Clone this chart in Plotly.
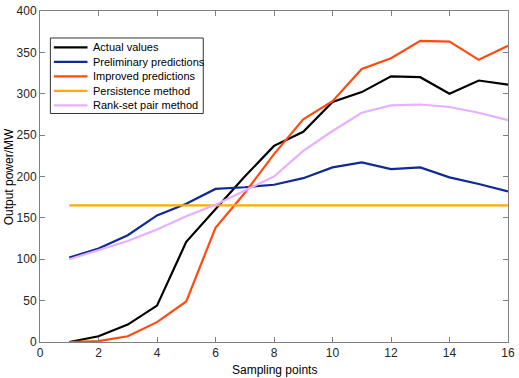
import plotly.graph_objects as go

x_points = list(range(1, 17))
actual = [0, 7, 21, 44, 121, 160, 200, 237, 254, 290, 302, 321, 320, 300, 316, 311]
preliminary = [102, 113, 129, 153, 167, 185, 187, 190, 198, 211, 217, 209, 211, 199, 191, 182]
improved = [0, 1, 7, 24, 49, 138, 180, 227, 269, 291, 330, 343, 364, 363, 341, 358]
persistence = [165] * 16
rankset = [100, 111, 122, 136, 152, 166, 183, 200, 231, 255, 277, 286, 287, 284, 277, 268]

names = ["Actual values", "Preliminary predictions", "Improved predictions",
         "Persistence method", "Rank-set pair method"]
values = [actual, preliminary, improved, persistence, rankset]
colors = ["#000000", "#0f2a96", "#ff4a10", "#ffaa00", "#e6b0ff"]

x_ticks = [0, 2, 4, 6, 8, 10, 12, 14, 16]
y_ticks = [0, 50, 100, 150, 200, 250, 300, 350, 400]

W, H = 519, 378
L, R, T, B = 40, 6, 4.5, 36
PW, PH = W - L - R, H - T - B


def px(xpix):
    return (xpix - L) / PW


def py(ypix):
    return (H - B - ypix) / PH


FONT = "Liberation Sans, Arial, sans-serif"

fig = go.Figure()
for name, vals, color in zip(names, values, colors):
    fig.add_trace(go.Scatter(x=x_points, y=vals, mode="lines", name=name,
                             line=dict(color=color, width=2.2), showlegend=False))

axis_common = dict(
    showgrid=False, zeroline=False, showline=True, linecolor="#808080", linewidth=1,
    mirror="ticks", ticks="inside", ticklen=5, tickcolor="#808080",
    ticklabeloverflow="allow",
    tickfont=dict(family=FONT, size=12, color="#262626"),
)
fig.update_xaxes(range=[0, 16], tickvals=x_ticks, **axis_common)
fig.update_yaxes(range=[0, 400], tickvals=y_ticks, **axis_common)

# legend box drawn in paper coordinates
shapes = [dict(type="rect", xref="paper", yref="paper",
               x0=px(50.5), x1=px(205), y0=py(109), y1=py(32),
               line=dict(color="#333333", width=1), fillcolor="white", layer="above")]
annotations = []
for i, (name, color) in enumerate(zip(names, colors)):
    yy = 41.5 + i * 14.8
    shapes.append(dict(type="line", xref="paper", yref="paper",
                       x0=px(54), x1=px(88), y0=py(yy), y1=py(yy),
                       line=dict(color=color, width=2.2), layer="above"))
    annotations.append(dict(text=name, x=px(92), y=py(yy), xref="paper", yref="paper",
                            xanchor="left", yanchor="middle", showarrow=False,
                            font=dict(family=FONT, size=11, color="#000000")))

annotations += [
    dict(text="Sampling points", x=0.5, y=py(361.5), xref="paper", yref="paper",
         xanchor="center", yanchor="top", showarrow=False,
         font=dict(family=FONT, size=12, color="#000000")),
    dict(text="Output power/MW", x=px(8.5), y=0.5, xref="paper", yref="paper",
         xanchor="center", yanchor="middle", showarrow=False, textangle=-90,
         font=dict(family=FONT, size=12, color="#000000")),
]

fig.update_layout(
    width=W, height=H,
    margin=dict(l=L, r=R, t=T, b=B),
    plot_bgcolor="white", paper_bgcolor="white",
    showlegend=False,
    shapes=shapes,
    annotations=annotations,
)

fig.write_html("out.html", config={"displayModeBar": False},
               post_script="document.body.style.margin='0px';document.body.style.overflow='hidden';")
